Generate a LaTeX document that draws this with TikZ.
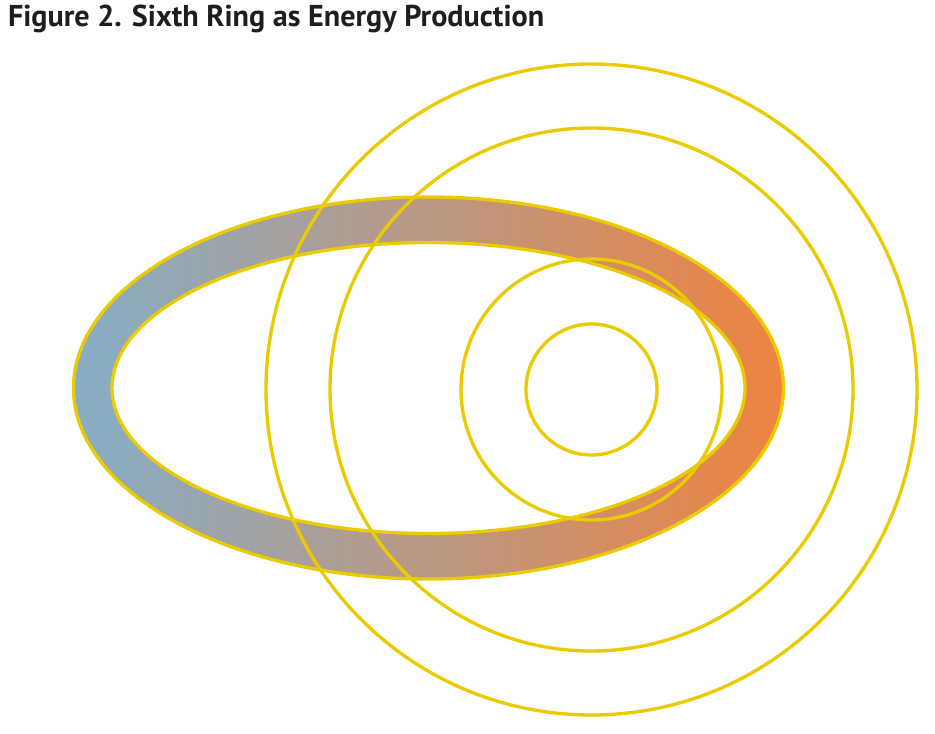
\documentclass[tikz,border=0pt]{standalone}
\usepackage{fontspec}
\setmainfont{PT Sans}
\usetikzlibrary{positioning,shapes.geometric}
\definecolor{ringyellow}{RGB}{234,202,0}
\definecolor{coolblue}{RGB}{134,173,198}
\definecolor{midgray}{RGB}{168,163,160}
\definecolor{warmorange}{RGB}{238,131,64}
\definecolor{inkdark}{RGB}{30,30,30}

\begin{document}
\begin{tikzpicture}[x=0.75pt, y=-0.75pt,
  every node/.style={inner sep=0pt, outer sep=0pt},
  orbit/.style={circle, draw=ringyellow, line width=2.5pt},
  band/.style ={left color=coolblue, middle color=midgray, right color=warmorange, even odd rule},
  rim/.style  ={draw=ringyellow, line width=2.5pt},
  ttl/.style  ={anchor=base west, text=inkdark, font=\bfseries\fontsize{22.6}{26}\selectfont}]

\useasboundingbox (0,0) rectangle (935,734);

%% ── Title ─────────────────────────────────────────────────────────
\node[ttl] (title) at (8,27) {Figure 2. Sixth Ring as Energy Production};

%% ── Centres ───────────────────────────────────────────────────────
\coordinate (loop) at (428.5,388);
\coordinate (hub)  at (591.5,389.5);

%% ── Sixth ring (shaded band) ──────────────────────────────────────
\path[band] (loop) ellipse (355 and 191) (loop) ellipse (316.5 and 145.5);
\draw[rim]  (loop) ellipse (355 and 191);
\draw[rim]  (loop) ellipse (316.5 and 145.5);

%% ── Concentric rings ──────────────────────────────────────────────
\node[orbit, minimum size=98.25pt]  (core)  at (hub) {};
\node[orbit, minimum size=195.75pt] (inner) at (hub) {};
\node[orbit, minimum size=392.25pt] (outer) at (hub) {};
\node[orbit, minimum size=488.25pt] (edge)  at (hub) {};
\end{tikzpicture}
\end{document}
